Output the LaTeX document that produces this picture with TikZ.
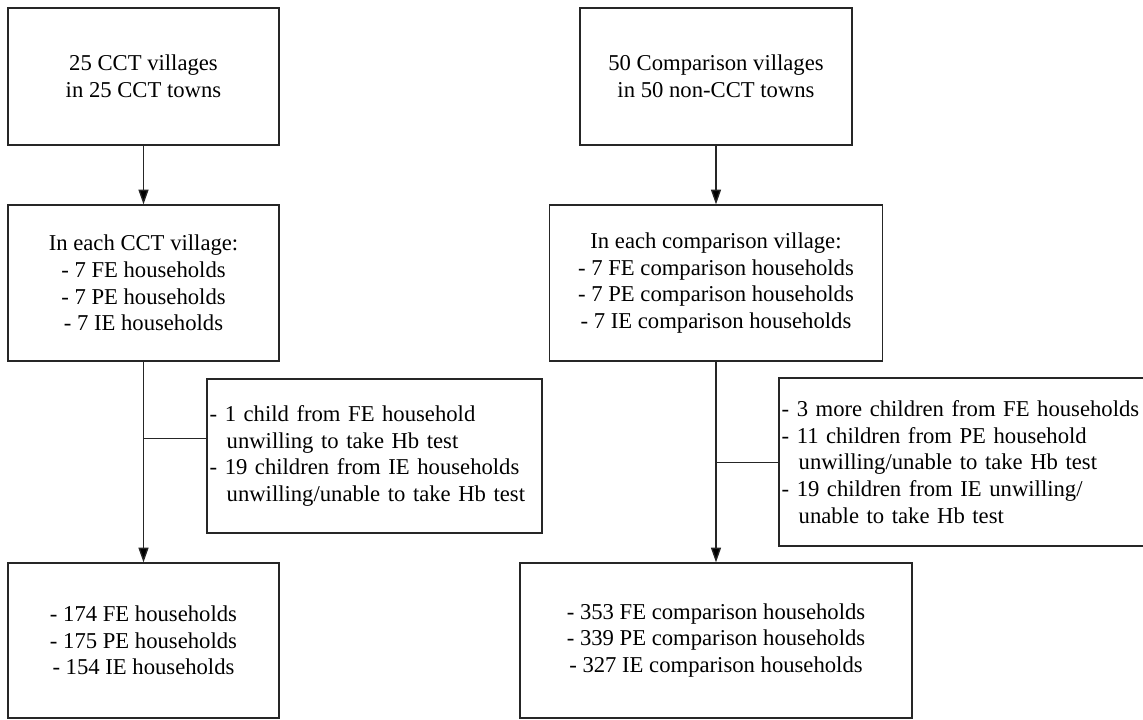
\documentclass[tikz,border=0pt]{standalone}
\usepackage{fontspec}
\setmainfont{Liberation Serif}
\usepackage{tikz}
\usetikzlibrary{arrows.meta}
\tikzset{FCbox/.style={draw=black!85,line width=1pt,fill=white,inner sep=0pt,align=center,font=\fontsize{17pt}{20pt}\selectfont}}
\tikzset{FCnote/.style={FCbox,align=left,inner xsep=2pt}}
\tikzset{FCline/.style={draw=black!85,line width=1pt}}
\newcommand{\hang}{\hspace*{12.75pt}}

\begin{document}
\begin{tikzpicture}[x=0.75pt,y=-0.75pt]
	\clip (0,0) rectangle (1143,719);
	\node[FCbox,minimum width=203.25pt,minimum height=102.75pt] (A1) at (143.5,76.5) {25 CCT villages\\in 25 CCT towns};
	\node[FCbox,minimum width=204pt,minimum height=102.75pt] (B1) at (716,76.5) {50 Comparison villages\\in 50 non-CCT towns};
	\node[FCbox,minimum width=203.25pt,minimum height=117pt] (A2) at (143.5,283) {In each CCT village:\\- 7 FE households\\- 7 PE households\\- 7 IE households};
	\node[FCbox,minimum width=249.75pt,minimum height=117pt] (B2) at (716,283) {In each comparison village:\\- 7 FE comparison households\\- 7 PE comparison households\\- 7 IE comparison households};
	\node[FCnote,text width=247.25pt,minimum height=115.5pt] (NA) at (374.5,456) {- 1 child from FE household\\\hang unwilling to take Hb test\\- 19 children from IE households\\\hang unwilling/unable to take Hb test};
	\node[FCnote,text width=289.25pt,minimum height=126pt] (NB) at (974.5,462) {- 3 more children from FE households\\- 11 children from PE household\\\hang unwilling/unable to take Hb test\\- 19 children from IE unwilling/\\\hang unable to take Hb test};
	\node[FCbox,minimum width=203.25pt,minimum height=116.25pt] (A3) at (143.5,640.5) {- 174 FE households\\- 175 PE households\\- 154 IE households};
	\node[FCbox,minimum width=294pt,minimum height=116.25pt] (B3) at (716,640.5) {- 353 FE comparison households\\- 339 PE comparison households\\- 327 IE comparison households};
	%
	\path (A2.south) ++(0,77) coordinate (JA);
	\path (B2.south) ++(0,101) coordinate (JB);
	\path[FCline,-{Triangle[length=11pt,width=7.5pt]}]
	(A1) edge (A2)
	(B1) edge (B2)
	(A2) edge (A3)
	(B2) edge (B3);
	\draw[FCline] (JA) -- (JA -| NA.west);
	\draw[FCline] (JB) -- (JB -| NB.west);
\end{tikzpicture}
\end{document}
